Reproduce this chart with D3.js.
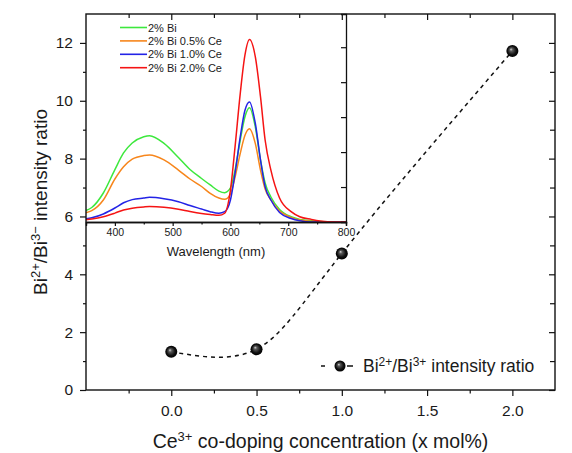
<!DOCTYPE html>
<html>
<head>
<meta charset="utf-8">
<script src="https://d3js.org/d3.v7.min.js"></script>
<style>
  body { margin: 0; background: #fff; }
  text { font-family: "Liberation Sans", Arial, sans-serif; fill: #1a1a1a; }
</style>
</head>
<body>
<script>
// main chart data
var ceConc = [0, 0.5, 1.0, 2.0];
var ratio = [1.32, 1.41, 4.72, 11.72];
var xMajor = [0, 0.5, 1.0, 1.5, 2.0];
var xMinor = [-0.25, 0.25, 0.75, 1.25, 1.75];
var yMajor = [0, 2, 4, 6, 8, 10, 12];
var yMinor = [1, 3, 5, 7, 9, 11];

// inset spectra (arb. units)
var wavelength = [350, 360, 380, 400, 415, 430, 450, 460, 485, 510, 530, 550, 565, 580, 590, 600, 608, 617, 625, 633, 643, 652, 660, 670, 685, 705, 720, 740, 755, 780, 800];
var bi2   = [0.066, 0.083, 0.166, 0.300, 0.395, 0.452, 0.488, 0.494, 0.450, 0.369, 0.300, 0.249, 0.212, 0.177, 0.168, 0.195, 0.297, 0.469, 0.601, 0.654, 0.545, 0.355, 0.223, 0.143, 0.072, 0.030, 0.015, 0.007, 0.003, 0.000, 0.000];
var ce05  = [0.053, 0.065, 0.126, 0.246, 0.316, 0.360, 0.380, 0.383, 0.355, 0.297, 0.246, 0.203, 0.164, 0.137, 0.130, 0.160, 0.257, 0.393, 0.495, 0.534, 0.450, 0.297, 0.189, 0.126, 0.063, 0.026, 0.011, 0.004, 0.000, 0.000, 0.000];
var ce10  = [0.018, 0.024, 0.046, 0.080, 0.110, 0.128, 0.137, 0.141, 0.133, 0.116, 0.094, 0.074, 0.059, 0.050, 0.059, 0.126, 0.279, 0.488, 0.638, 0.687, 0.565, 0.355, 0.202, 0.126, 0.054, 0.020, 0.007, 0.000, 0.000, 0.000, 0.000];
var ce20  = [0.013, 0.017, 0.030, 0.051, 0.069, 0.079, 0.086, 0.088, 0.084, 0.073, 0.060, 0.049, 0.043, 0.038, 0.050, 0.183, 0.431, 0.736, 0.953, 1.044, 0.946, 0.717, 0.469, 0.297, 0.137, 0.059, 0.030, 0.015, 0.006, 0.000, 0.000];
var seriesNames = ["2% Bi", "2% Bi 0.5% Ce", "2% Bi 1.0% Ce", "2% Bi 2.0% Ce"];
var seriesColors = ["#3de83d", "#f7861c", "#2323e6", "#f51414"];
var wlMajor = [400, 500, 600, 700, 800];
var wlMinor = [450, 550, 650, 750];
var insetRightTicks = [0.2, 0.4, 0.6, 0.8, 1.0];

var W = 572, H = 453;
var margin = {top: 14, right: 17, bottom: 63, left: 86};
var width = W - margin.left - margin.right,
    height = H - margin.top - margin.bottom;

var svg = d3.select("body").append("svg")
    .attr("width", W).attr("height", H);

var defs = svg.append("defs");
var grad = defs.append("radialGradient").attr("id", "ball")
    .attr("cx", "0.5").attr("cy", "0.5").attr("r", "0.5")
    .attr("fx", "0.38").attr("fy", "0.35");
grad.append("stop").attr("offset", "0%").attr("stop-color", "#d8d8d8");
grad.append("stop").attr("offset", "25%").attr("stop-color", "#5a5a5a");
grad.append("stop").attr("offset", "70%").attr("stop-color", "#111");
grad.append("stop").attr("offset", "100%").attr("stop-color", "#000");

var g = svg.append("g")
    .attr("transform", "translate(" + margin.left + "," + margin.top + ")");

var x = d3.scaleLinear().domain([-0.5, 2.25]).range([0, width]);
var y = d3.scaleLinear().domain([0, 13]).range([height, 0]);

// inset scales (share top-left corner of main plot)
var insetW = 260, insetH = 208;
var xi = d3.scaleLinear().domain([350, 800]).range([0, insetW]);
var yi = d3.scaleLinear().domain([0, 1.19]).range([insetH, 0]);

// ---- inset ----
var inset = g.append("g");
inset.append("rect").attr("width", insetW).attr("height", insetH).attr("fill", "#fff");

var spectra = [bi2, ce05, ce10, ce20];
var line = d3.line()
    .x(function(d, i) { return xi(wavelength[i]); })
    .y(function(d) { return yi(d); })
    .curve(d3.curveMonotoneX);

inset.selectAll(".spec").data(spectra).enter().append("path")
    .attr("class", "spec")
    .attr("d", line)
    .attr("fill", "none")
    .attr("stroke", function(d, i) { return seriesColors[i]; })
    .attr("stroke-width", 1.5);

var ib = inset.append("g").attr("transform", "translate(0," + insetH + ")")
    .call(d3.axisBottom(xi).tickValues(wlMajor).tickSize(4).tickPadding(3).tickFormat(d3.format("d")));
ib.selectAll("text").attr("font-size", "10.5px").attr("fill", "#333");
inset.append("g").attr("transform", "translate(0," + insetH + ")")
    .call(d3.axisBottom(xi).tickValues(wlMinor).tickSize(2.5).tickFormat(""));
inset.append("g").attr("transform", "translate(" + insetW + ",0)")
    .call(d3.axisRight(yi).tickValues(insetRightTicks).tickSize(-5).tickFormat(""));
inset.selectAll(".domain").attr("stroke", "#111").attr("stroke-width", 1.3);
inset.selectAll(".tick line").attr("stroke", "#111");

inset.append("text")
    .attr("x", insetW / 2).attr("y", insetH + 34)
    .attr("text-anchor", "middle").attr("font-size", "13px")
    .text("Wavelength (nm)");

var lg = inset.selectAll(".lg").data(seriesNames).enter().append("g")
    .attr("transform", function(d, i) { return "translate(34," + (13.5 + i * 13.4) + ")"; });
lg.append("line").attr("x1", 0).attr("x2", 27)
    .attr("stroke", function(d, i) { return seriesColors[i]; })
    .attr("stroke-width", 1.6);
lg.append("text").attr("x", 28).attr("y", 4)
    .attr("font-size", "11px").text(function(d) { return d; });

// ---- main frame & axes ----
g.append("rect").attr("width", width).attr("height", height)
    .attr("fill", "none").attr("stroke", "#111").attr("stroke-width", 1.4);

var bx = g.append("g").attr("transform", "translate(0," + height + ")")
    .call(d3.axisBottom(x).tickValues(xMajor).tickSize(6).tickPadding(9).tickFormat(d3.format(".1f")));
g.append("g").attr("transform", "translate(0," + height + ")")
    .call(d3.axisBottom(x).tickValues(xMinor).tickSize(3.5).tickFormat(""));
var ly = g.append("g")
    .call(d3.axisLeft(y).tickValues(yMajor).tickSize(6).tickPadding(7));
g.append("g").call(d3.axisLeft(y).tickValues(yMinor).tickSize(3).tickFormat(""));
g.append("g").call(d3.axisTop(x).tickValues(xMajor).tickSize(-6).tickFormat(""));
g.append("g").call(d3.axisTop(x).tickValues(xMinor).tickSize(-4).tickFormat(""));
g.append("g").attr("transform", "translate(" + width + ",0)")
    .call(d3.axisRight(y).tickValues(yMajor).tickSize(-6).tickFormat(""));
g.append("g").attr("transform", "translate(" + width + ",0)")
    .call(d3.axisRight(y).tickValues(yMinor).tickSize(-5).tickFormat(""));
g.selectAll(".domain").filter(function() { return !inset.node().contains(this); }).remove();
g.selectAll(".tick line").attr("stroke", "#111").attr("stroke-width", 1.2);
bx.selectAll("text").attr("font-size", "15.5px").attr("fill", "#222");
ly.selectAll("text").attr("font-size", "15.5px").attr("fill", "#222");

// ---- ratio curve ----
var pts = ceConc.map(function(c, i) { return [x(c), y(ratio[i])]; });
g.append("path")
    .attr("d", d3.line().curve(d3.curveNatural)(pts))
    .attr("fill", "none").attr("stroke", "#111")
    .attr("stroke-width", 1.5).attr("stroke-dasharray", "4,4");

g.selectAll(".ball").data(pts).enter().append("circle")
    .attr("cx", function(d) { return d[0]; })
    .attr("cy", function(d) { return d[1]; })
    .attr("r", 6).attr("fill", "url(#ball)");

// legend
var leg = g.append("g").attr("transform", "translate(235,352)");
leg.append("line").attr("x1", 0).attr("x2", 4)
    .attr("stroke", "#111").attr("stroke-width", 1.5);
leg.append("line").attr("x1", 26).attr("x2", 32)
    .attr("stroke", "#111").attr("stroke-width", 1.5);
leg.append("circle").attr("cx", 19).attr("r", 5.5).attr("fill", "url(#ball)");
var lt = leg.append("text").attr("x", 42).attr("y", 6).attr("font-size", "17.5px");
lt.append("tspan").text("Bi");
lt.append("tspan").attr("dy", -6).attr("font-size", "12px").text("2+");
lt.append("tspan").attr("dy", 6).text("/Bi");
lt.append("tspan").attr("dy", -6).attr("font-size", "12px").text("3+");
lt.append("tspan").attr("dy", 6).text(" intensity ratio");

// axis titles
var xt = svg.append("text")
    .attr("x", margin.left + width / 2).attr("y", 448)
    .attr("text-anchor", "middle").attr("font-size", "19.5px");
xt.append("tspan").text("Ce");
xt.append("tspan").attr("dy", -7).attr("font-size", "13px").text("3+");
xt.append("tspan").attr("dy", 7).text(" co-doping concentration (x mol%)");

var yt = svg.append("text")
    .attr("transform", "translate(47," + (margin.top + height / 2) + ") rotate(-90)")
    .attr("text-anchor", "middle").attr("font-size", "19px");
yt.append("tspan").text("Bi");
yt.append("tspan").attr("dy", -7).attr("font-size", "13px").text("2+");
yt.append("tspan").attr("dy", 7).text("/Bi");
yt.append("tspan").attr("dy", -7).attr("font-size", "13px").text("3\u2212");
yt.append("tspan").attr("dy", 7).text(" intensity ratio");
</script>
</body>
</html>
